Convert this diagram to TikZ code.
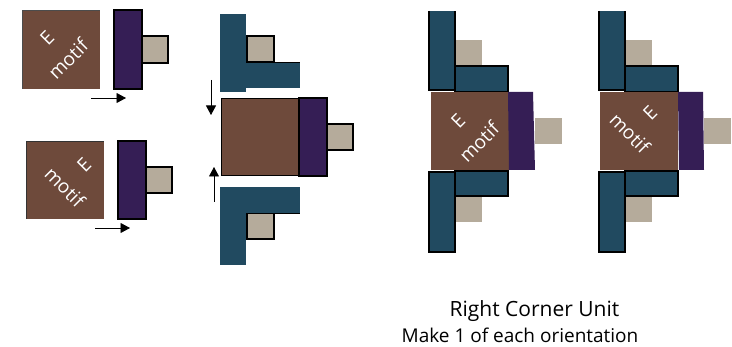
\documentclass[tikz,border=0pt]{standalone}
\usepackage{fontspec}
\setmainfont{Open Sans}
\usetikzlibrary{arrows.meta}
\definecolor{motifbrown}{HTML}{6E4A3B}
\definecolor{capblue}{HTML}{214A60}
\definecolor{pegpurple}{HTML}{351E55}
\definecolor{peggrey}{HTML}{B5AB9B}
\tikzset{
  blk/.style={draw=black,line width=1.1pt},
  flow/.style={-{Triangle[length=9.5pt,width=10pt]},line width=0.8pt},
  lab/.style={text=white,font=\fontsize{19}{19}\selectfont,inner sep=0pt},
  captext/.style={inner sep=0pt,anchor=base}
}
% upper and lower blue corner, joined unit
\newcommand{\topcorner}[1]{
  \fill [peggrey] (#1+26,40) rectangle (#1+53,66);
  \fill [capblue] (#1,11) rectangle (#1+26,90);
  \draw [blk,fill=capblue] (#1+26,66) rectangle (#1+79,91.5);
  \draw [blk] (#1,11) -- (#1,90) -- (#1+26,90) -- (#1+26,11);
}
\newcommand{\lowcorner}[1]{
  \fill [peggrey] (#1+26,197) rectangle (#1+53,222);
  \draw [blk,fill=capblue] (#1+26,171) rectangle (#1+79,196);
  \draw [blk,fill=capblue] (#1,172) rectangle (#1+26,252);
}
\begin{document}
\begin{tikzpicture}[x=1pt,y=-1pt]
  \useasboundingbox (0,0) rectangle (732,347);
  % left column
  \fill [motifbrown] (22,10) rectangle (100,89);
  \draw [black!70,line width=0.6pt] (22,89) -- (22,10) -- (100,10);
  \draw [blk,fill=pegpurple] (114,10) rectangle (142,89);
  \draw [blk,fill=peggrey] (142,36) rectangle (168,63);
  \node [lab,rotate=45] (e1) at (47,38) {E};
  \node [lab,rotate=45] (motif1) at (68,59) {motif};
  \coordinate (a1) at (91,98);
  \coordinate (b1) at (126,98);
  \draw [flow] (a1) -- (b1);
  \fill [motifbrown] (26,141) rectangle (104,219);
  \draw [black!80,line width=0.6pt] (26,219) -- (26,141) -- (104,141);
  \draw [blk,fill=pegpurple] (118,141) rectangle (146,219);
  \draw [blk,fill=peggrey] (146,167) rectangle (172,193);
  \node [lab,rotate=45] (e2) at (84,165) {E};
  \node [lab,rotate=-45] (motif2) at (65,187) {motif};
  \coordinate (a2) at (95,228);
  \coordinate (b2) at (130,228);
  \draw [flow] (a2) -- (b2);
  % middle column
  \draw [blk,fill=peggrey] (247,36) rectangle (274,62);
  \fill [capblue] (220,14) rectangle (246,92);
  \fill [capblue] (246,62) rectangle (300,88);
  \draw [black,line width=0.8pt] (246,36) -- (246,62) -- (300,62);
  \draw [black,line width=1pt,fill=motifbrown] (221,99) rectangle (299,176);
  \draw [blk,fill=pegpurple] (299,98) rectangle (327,176);
  \draw [blk,fill=peggrey] (327,124) rectangle (353,150);
  \draw [blk,fill=peggrey] (247,213) rectangle (274,239);
  \fill [capblue] (220,187) rectangle (246,265);
  \fill [capblue] (246,187) rectangle (300,213);
  \draw [black,line width=0.8pt] (246,239) -- (246,213) -- (300,213);
  \coordinate (a3) at (211,80);
  \coordinate (b3) at (211,115);
  \draw [flow] (a3) -- (b3);
  \coordinate (a4) at (214,202);
  \coordinate (b4) at (214,167);
  \draw [flow] (a4) -- (b4);
  % right corner units
  \topcorner{429}
  \lowcorner{429}
  \fill [motifbrown] (431,92) rectangle (509,170);
  \fill [pegpurple] (508,92) -- (533,92) -- (535,170) -- (509,170) -- cycle;
  \fill [peggrey] (535,118) rectangle (562,144);
  \node [lab,rotate=45] (e3) at (458,121) {E};
  \node [lab,rotate=45] (motif3) at (479,142) {motif};
  \topcorner{599}
  \lowcorner{599}
  \fill [motifbrown] (600,92) rectangle (678,170);
  \fill [pegpurple] (678,92) -- (703,92) -- (704,170) -- (679,170) -- cycle;
  \fill [peggrey] (704,118) rectangle (731,144);
  \node [lab,rotate=45] (e4) at (650,113) {E};
  \node [lab,rotate=-45] (motif4) at (630,133) {motif};
  \node [captext,font=\fontsize{21}{25}\selectfont] (caption1) at (534.5,317) {Right Corner Unit};
  \node [captext,font=\fontsize{19}{25}\selectfont] (caption2) at (520,343) {Make 1 of each orientation};
\end{tikzpicture}
\end{document}
